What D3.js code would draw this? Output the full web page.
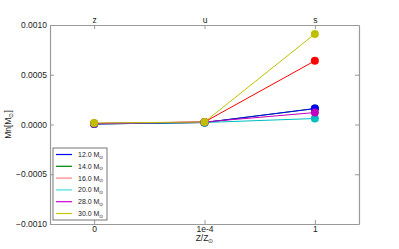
<!DOCTYPE html>
<html>
<head>
<meta charset="utf-8">
<script src="https://cdn.jsdelivr.net/npm/d3@7"></script>
<style>
  body { margin: 0; background: #fff; }
  text { font-family: "Liberation Sans", Arial, sans-serif; }
</style>
</head>
<body>
<svg id="chart" width="399" height="249"></svg>
<script>
// x positions: index 0, 1, 2
const topLabels = ['z', 'u', 's'];
const bottomLabels = ['0', '1e-4', '1'];
const masses = ['12.0', '14.0', '16.0', '20.0', '28.0', '30.0'];
const colours = ['#0000ff', '#008000', '#ff0000', '#00bfbf', '#bf00bf', '#bfbf00'];
const legendColours = ['#0000ff', '#008000', '#ff8080', '#40e0e0', '#d000d0', '#c8c800'];

const m12 = [0.000005, 0.00002, 0.00016];
const m14 = [0.000005, 0.00002, 0.00016];
const m16 = [0.00001, 0.000025, 0.00064];
const m20 = [0.00001, 0.00002, 0.00006];
const m28 = [0.00001, 0.000025, 0.00012];
const m30 = [0.000015, 0.000025, 0.00091];
const series = [m12, m14, m16, m20, m28, m30];
// the 14.0 curve sits under the 12.0 one in the picture
const drawOrder = [1, 0, 2, 3, 4, 5];

const yTicks = [-0.001, -0.0005, 0, 0.0005, 0.001];

const margin = { top: 25, right: 40, bottom: 25, left: 50 };
const width = 399, height = 249;
const svg = d3.select('#chart');

const x = d3.scaleLinear().domain([-0.4, 2.4]).range([margin.left, width - margin.right]);
const y = d3.scaleLinear().domain([-0.001, 0.001]).range([height - margin.bottom, margin.top]);

const axisColour = '#999';
const fmt = d => d3.format('.4f')(d).replace('-', '\u2212');

// axes
const gL = svg.append('g').attr('transform', `translate(${margin.left},0)`)
  .call(d3.axisLeft(y).tickValues(yTicks).tickFormat(fmt).tickSizeInner(-4).tickSizeOuter(0).tickPadding(3));
const gR = svg.append('g').attr('transform', `translate(${width - margin.right},0)`)
  .call(d3.axisRight(y).tickValues(yTicks).tickFormat('').tickSizeInner(-4).tickSizeOuter(0));
const gB = svg.append('g').attr('transform', `translate(0,${height - margin.bottom})`)
  .call(d3.axisBottom(x).tickValues([0, 1, 2]).tickFormat((d, i) => bottomLabels[i]).tickSizeInner(-4).tickSizeOuter(0).tickPadding(2));
const gT = svg.append('g').attr('transform', `translate(0,${margin.top})`)
  .call(d3.axisTop(x).tickValues([0, 1, 2]).tickFormat((d, i) => topLabels[i]).tickSizeInner(-4).tickSizeOuter(0).tickPadding(2));

[gL, gR, gB, gT].forEach(g => {
  g.select('.domain').attr('stroke', axisColour).attr('stroke-width', 1.2);
  g.selectAll('.tick line').attr('stroke', axisColour);
  g.selectAll('.tick text').attr('fill', '#222').style('font-size', '8.5px');
});

// lines and points
const line = d3.line().x((d, i) => x(i)).y(d => y(d));
drawOrder.forEach(k => {
  svg.append('path').datum(series[k])
    .attr('fill', 'none').attr('stroke', colours[k]).attr('stroke-width', 1)
    .attr('d', line);
});
drawOrder.forEach(k => {
  svg.append('g').selectAll('circle').data(series[k]).join('circle')
    .attr('cx', (d, i) => x(i)).attr('cy', d => y(d)).attr('r', 4)
    .attr('fill', colours[k]);
});

// axis labels
const xl = svg.append('text').attr('x', x(1)).attr('y', 241)
  .attr('text-anchor', 'middle').style('font-size', '8.5px').attr('fill', '#222');
xl.append('tspan').text('Z/Z');
xl.append('tspan').text('\u2299').attr('dy', 2).style('font-size', '6px');

const yl = svg.append('text')
  .attr('transform', `translate(11,${(margin.top + height - margin.bottom) / 2}) rotate(-90)`)
  .attr('text-anchor', 'middle').style('font-size', '8.5px').attr('fill', '#222');
yl.append('tspan').text('Mn[M');
yl.append('tspan').text('\u2299').attr('dy', 2).style('font-size', '6px');
yl.append('tspan').text(']').attr('dy', -2);

// legend
const lg = svg.append('g').attr('transform', 'translate(53,148)');
lg.append('rect').attr('width', 54).attr('height', 72)
  .attr('fill', '#fff').attr('stroke', '#777').attr('stroke-width', 1);
masses.forEach((m, k) => {
  const yy = 6.5 + k * 11.8;
  lg.append('line').attr('x1', 3).attr('x2', 19).attr('y1', yy).attr('y2', yy)
    .attr('stroke', legendColours[k]).attr('stroke-width', 1.2);
  const t = lg.append('text').attr('x', 25).attr('y', yy + 2.5)
    .style('font-size', '7px').attr('fill', '#222');
  t.append('tspan').text(m + ' M');
  t.append('tspan').text('\u2299').attr('dy', 1.5).style('font-size', '5px');
});
</script>
</body>
</html>
